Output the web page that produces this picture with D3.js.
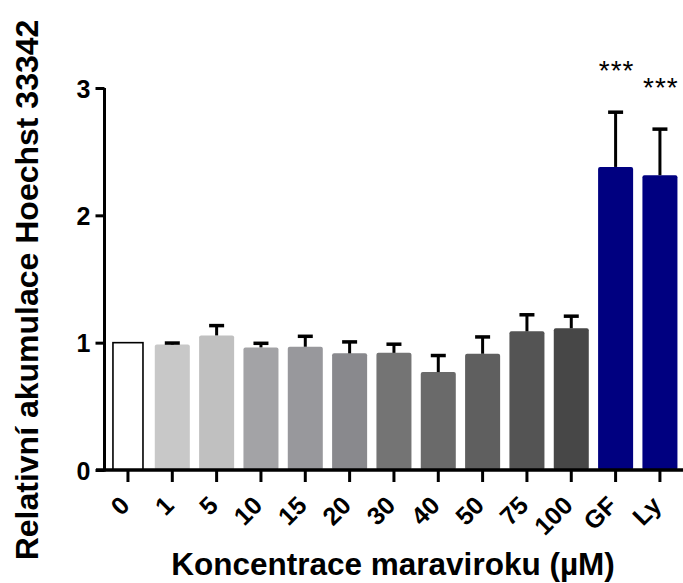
<!DOCTYPE html>
<html>
<head>
<meta charset="utf-8">
<script src="https://cdn.jsdelivr.net/npm/d3@7"></script>
<style>
  body { margin: 0; background: #fff; }
  text { font-family: "Liberation Sans", Arial, sans-serif; }
</style>
</head>
<body>
<script>
// data
const categories = ["0", "1", "5", "10", "15", "20", "30", "40", "50", "75", "100", "GF", "Ly"];
const means = [1.0, 0.985, 1.057, 0.963, 0.968, 0.916, 0.92, 0.769, 0.913, 1.089, 1.113, 2.38, 2.315];
const errors = [0, 0.012, 0.077, 0.032, 0.082, 0.09, 0.068, 0.13, 0.132, 0.13, 0.095, 0.43, 0.362];
const colors = ["#ffffff", "#c8c8c8", "#c0c0c0", "#a3a3a6", "#98989c", "#89898d", "#747474",
                "#6a6a6a", "#5f5f5f", "#545454", "#474747", "#000080", "#000080"];
const stars = [{cat: "GF", label: "***"}, {cat: "Ly", label: "***"}];
const yTicks = [0, 1, 2, 3];

const W = 683, H = 583;

const svg = d3.select("body")
  .append("svg")
  .attr("width", W)
  .attr("height", H);

const x = d3.scaleBand()
  .domain(categories)
  .range([105.8, 682.1])
  .paddingInner(0.21)
  .paddingOuter(0.105);

const y = d3.scaleLinear()
  .domain([0, 3])
  .range([470, 88]);

const data = categories.map((c, i) => ({cat: c, mean: means[i], err: errors[i], color: colors[i]}));

// bars
svg.append("g")
  .selectAll("rect")
  .data(data)
  .enter()
  .append("rect")
  .attr("x", (d, i) => i === 0 ? x(d.cat) + 2.5 : x(d.cat))
  .attr("y", d => y(d.mean))
  .attr("width", (d, i) => i === 0 ? x.bandwidth() - 5 : x.bandwidth())
  .attr("height", d => y(0) - y(d.mean))
  .attr("rx", (d, i) => i === 0 ? 0 : 2)
  .attr("fill", d => d.color)
  .attr("stroke", (d, i) => i === 0 ? "#000" : "none")
  .attr("stroke-width", 1.6);

// error bars (upper only)
const eb = svg.append("g")
  .selectAll("g")
  .data(data.filter(d => d.err > 0))
  .enter()
  .append("g");

eb.append("line")
  .attr("x1", d => x(d.cat) + x.bandwidth() / 2)
  .attr("x2", d => x(d.cat) + x.bandwidth() / 2)
  .attr("y1", d => y(d.mean))
  .attr("y2", d => y(d.mean + d.err))
  .attr("stroke", "#000")
  .attr("stroke-width", 3);

eb.append("line")
  .attr("x1", d => x(d.cat) + x.bandwidth() / 2 - 7.5)
  .attr("x2", d => x(d.cat) + x.bandwidth() / 2 + 7.5)
  .attr("y1", d => y(d.mean + d.err))
  .attr("y2", d => y(d.mean + d.err))
  .attr("stroke", "#000")
  .attr("stroke-width", 3.5);

// y axis
const yAxis = svg.append("g")
  .attr("transform", "translate(104.5,0)")
  .call(d3.axisLeft(y).tickValues(yTicks).tickFormat(d3.format("d")).tickSize(9).tickSizeOuter(0));
yAxis.select(".domain").attr("stroke-width", 3).attr("d", `M0,${y(3)}V${y(0) + 1.5}`);
yAxis.selectAll(".tick line").attr("stroke-width", 3);
yAxis.selectAll(".tick text")
  .attr("x", -14)
  .attr("dy", "0.36em")
  .style("font-size", "25px")
  .style("font-weight", "bold")
  .attr("fill", "#000");

// x axis
const xAxis = svg.append("g")
  .attr("transform", `translate(0,${y(0)})`)
  .call(d3.axisBottom(x).tickSize(12).tickSizeOuter(0));
xAxis.select(".domain").attr("stroke-width", 3.5).attr("d", "M96,0H683");
xAxis.selectAll(".tick line").attr("stroke-width", 3);
xAxis.selectAll(".tick text")
  .attr("text-anchor", "end")
  .attr("transform", "translate(3,37) rotate(-45)")
  .attr("y", 0)
  .attr("dy", 0)
  .style("font-size", "25px")
  .style("font-weight", "bold")
  .attr("fill", "#000");

// significance stars
svg.append("g")
  .selectAll("text")
  .data(stars)
  .enter()
  .append("text")
  .attr("x", d => x(d.cat) + x.bandwidth() / 2 + 1)
  .attr("y", d => {
    const r = data.find(e => e.cat === d.cat);
    return y(r.mean + r.err) - 32;
  })
  .attr("text-anchor", "middle")
  .style("font-size", "28px")
  .style("letter-spacing", "1px")
  .text(d => d.label);

// axis titles
svg.append("text")
  .attr("transform", "translate(38,290) rotate(-90)")
  .attr("text-anchor", "middle")
  .style("font-size", "32px")
  .style("font-weight", "bold")
  .text("Relativní akumulace Hoechst 33342");

svg.append("text")
  .attr("x", 393)
  .attr("y", 575)
  .attr("text-anchor", "middle")
  .style("font-size", "31.5px")
  .style("font-weight", "bold")
  .text("Koncentrace maraviroku (µM)");
</script>
</body>
</html>
